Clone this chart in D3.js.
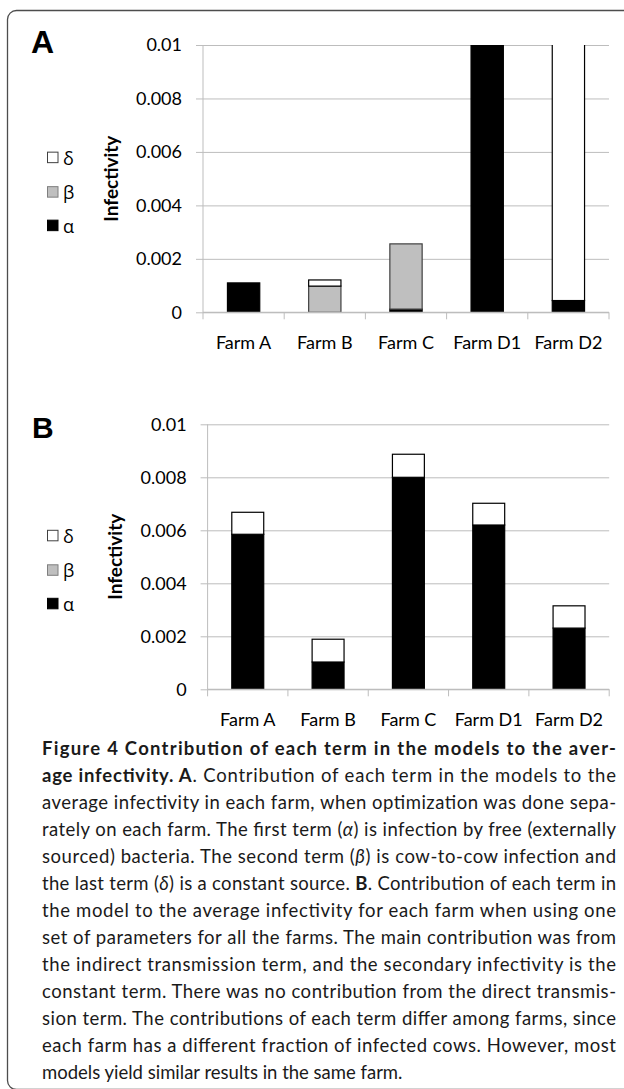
<!DOCTYPE html>
<html>
<head>
<meta charset="utf-8">
<script src="https://cdn.jsdelivr.net/npm/d3@7"></script>
<style>
  html, body { margin: 0; padding: 0; background: #fff; }
  svg { display: block; }
</style>
</head>
<body>
<svg id="fig" width="624" height="1089"></svg>
<script>
// Farms on the category axis
const farms = ["Farm A", "Farm B", "Farm C", "Farm D1", "Farm D2"];

// Panel A: separate optimisation per farm (D1 and D2 run past the 0.01 axis limit)
const alphaA = [0.0011, 0, 0.00012, 0.0106, 0.00044];
const betaA  = [0, 0.00098, 0.00244, 0, 0];
const deltaA = [0, 0.00023, 0, 0, 0.0106];

// Panel B: one parameter set for all farms
const alphaB = [0.00585, 0.00103, 0.0080, 0.0062, 0.00231];
const betaB  = [0, 0, 0, 0, 0];
const deltaB = [0.00083, 0.00086, 0.00087, 0.00082, 0.00084];

// Value axis ticks
const yTicks = [0, 0.002, 0.004, 0.006, 0.008, 0.01];

// Term legend (top to bottom) and stacking order (bottom to top)
const legendTerms = ["δ", "β", "α"];
const termFill   = { "α": "#000000", "β": "#bfbfbf", "δ": "#ffffff" };
const termStroke = { "α": "#000000", "β": "#7f7f7f", "δ": "#404040" };

const svg = d3.select("#fig");
const numFont = "Lato, 'Open Sans', 'Noto Sans', sans-serif";

// outer rounded frame
svg.append("rect")
  .attr("x", 7.5).attr("y", 10.5)
  .attr("width", 680).attr("height", 1079)
  .attr("rx", 9).attr("ry", 9)
  .attr("fill", "none").attr("stroke", "#4d4d4d").attr("stroke-width", 1.3);

function drawPanel(cfg) {
  const { id, letter, letterX, letterY, letterSize, x0, x1, yZero, yTop, alpha, beta, delta } = cfg;

  const x = d3.scaleBand().domain(farms).range([x0, x1])
    .paddingInner(0.59).paddingOuter(0.295);
  const y = d3.scaleLinear().domain([0, 0.01]).range([yZero, yTop]);

  const g = svg.append("g");

  // horizontal gridlines (start a little left of the axis, like outside tick marks)
  const grid = g.append("g")
    .attr("transform", `translate(${x0 - 7},0)`)
    .call(d3.axisRight(y).tickValues(yTicks).tickSize(x1 - x0 + 7).tickFormat(""));
  grid.select(".domain").remove();
  grid.selectAll(".tick line").attr("stroke", "#bdbdbd").attr("stroke-width", 1);

  // vertical axis line
  g.append("line")
    .attr("x1", x0).attr("x2", x0).attr("y1", yTop).attr("y2", yZero)
    .attr("stroke", "#bdbdbd").attr("stroke-width", 1);

  // tick labels
  const yLab = g.append("g")
    .attr("transform", `translate(${x0},0)`)
    .call(d3.axisLeft(y).tickValues(yTicks).tickSize(0).tickPadding(21)
      .tickFormat(d => d === 0 ? "0" : String(+d.toFixed(3))));
  yLab.select(".domain").remove();
  yLab.selectAll("text")
    .attr("font-family", numFont).attr("font-size", 18).attr("fill", "#000");

  // axis title
  g.append("text")
    .attr("transform", `translate(${x0 - 93},${(yZero + yTop) / 2}) rotate(-90)`)
    .attr("text-anchor", "middle").attr("dominant-baseline", "central")
    .attr("font-family", numFont).attr("font-weight", 700).attr("font-size", 19)
    .text("Infectivity");

  // stacked bars, clipped at the top of the value axis
  const clipId = "clip" + id;
  svg.append("clipPath").attr("id", clipId)
    .append("rect").attr("x", x0 - 1).attr("y", yTop).attr("width", x1 - x0 + 2).attr("height", yZero - yTop + 1);

  const rows = farms.map((f, i) => ({ farm: f, "α": alpha[i], "β": beta[i], "δ": delta[i] }));
  const series = d3.stack().keys(["α", "β", "δ"])(rows);

  const bars = g.append("g").attr("clip-path", `url(#${clipId})`);
  series.forEach(s => {
    bars.append("g").selectAll("rect")
      .data(s.filter(d => d[1] - d[0] > 0))
      .join("rect")
      .attr("x", d => x(d.data.farm) + 0.5)
      .attr("width", x.bandwidth() - 1)
      .attr("y", d => y(d[1]))
      .attr("height", d => y(d[0]) - y(d[1]))
      .attr("fill", termFill[s.key])
      .attr("stroke", s.key === "β" ? "#404040" : "#000")
      .attr("stroke-width", 1.2);
  });

  // category axis line with boundary ticks
  g.append("line")
    .attr("x1", x0).attr("x2", x1).attr("y1", yZero).attr("y2", yZero)
    .attr("stroke", "#bdbdbd").attr("stroke-width", 1.2);
  const bounds = [x0].concat(farms.map(f => x(f) + x.bandwidth() / 2 + x.step() / 2));
  g.append("g").selectAll("line").data(bounds).join("line")
    .attr("x1", d => d).attr("x2", d => d)
    .attr("y1", yZero).attr("y2", yZero + 7)
    .attr("stroke", "#bdbdbd").attr("stroke-width", 1);

  const xLab = g.append("g")
    .attr("transform", `translate(0,${yZero})`)
    .call(d3.axisBottom(x).tickSize(0));
  xLab.select(".domain").remove();
  xLab.selectAll("text")
    .attr("y", 37).attr("dy", 0)
    .attr("font-family", numFont).attr("font-size", 18).attr("fill", "#000");

  // legend
  const mid = (yZero + yTop) / 2;
  const offs = [-21, 13.5, 47];
  const leg = g.append("g");
  legendTerms.forEach((t, i) => {
    const cy = mid + offs[i];
    leg.append("rect")
      .attr("x", 47.5).attr("y", cy - 5.5).attr("width", 10.5).attr("height", 10.5)
      .attr("fill", termFill[t]).attr("stroke", termStroke[t]).attr("stroke-width", 1);
    leg.append("text")
      .attr("x", 63).attr("y", cy).attr("dominant-baseline", "central")
      .attr("font-family", "'Open Sans', 'Noto Sans', sans-serif").attr("font-size", 18)
      .text(t);
  });

  // panel letter
  g.append("text")
    .attr("x", letterX).attr("y", letterY)
    .attr("font-family", "'Liberation Sans', Arial, sans-serif")
    .attr("font-weight", 700).attr("font-size", letterSize)
    .text(letter);
}

drawPanel({ id: "A", letter: "A", letterX: 31, letterY: 53, letterSize: 32,
  x0: 203, x1: 609, yZero: 312.3, yTop: 45, alpha: alphaA, beta: betaA, delta: deltaA });
drawPanel({ id: "B", letter: "B", letterX: 32, letterY: 438, letterSize: 30,
  x0: 207.6, x1: 609.2, yZero: 689.3, yTop: 424.3, alpha: alphaB, beta: betaB, delta: deltaB });

// Caption, one entry per printed line; segments are [text, style]
const captionLines = [
  [["Figure 4  Contribution of each term in the models to the aver-", "b"]],
  [["age infectivity. A", "b"], [". Contribution of each term in the models to the", "r"]],
  [["average infectivity in each farm, when optimization was done sepa-", "r"]],
  [["rately on each farm. The first term (", "r"], ["α", "i"], [") is infection by free (externally", "r"]],
  [["sourced) bacteria. The second term (", "r"], ["β", "i"], [") is cow-to-cow infection and", "r"]],
  [["the last term (", "r"], ["δ", "i"], [") is a constant source. ", "r"], ["B", "b"], [". Contribution of each term in", "r"]],
  [["the model to the average infectivity for each farm when using one", "r"]],
  [["set of parameters for all the farms. The main contribution was from", "r"]],
  [["the indirect transmission term, and the secondary infectivity is the", "r"]],
  [["constant term. There was no contribution from the direct transmis-", "r"]],
  [["sion term. The contributions of each term differ among farms, since", "r"]],
  [["each farm has a different fraction of infected cows. However, most", "r"]],
  [["models yield similar results in the same farm.", "r"]]
];

const cap = svg.append("g")
  .attr("font-family", "Lato, 'Open Sans', 'Noto Sans', sans-serif")
  .attr("font-size", 18.5).attr("fill", "#1a1a1a");
captionLines.forEach((segs, i) => {
  const t = cap.append("text")
    .attr("x", 42).attr("y", 755 + i * 27);
  if (i < captionLines.length - 1) {
    t.attr("textLength", 574).attr("lengthAdjust", "spacing");
  }
  segs.forEach(([txt, st]) => {
    t.append("tspan")
      .attr("font-weight", st === "b" ? 700 : 400)
      .attr("font-style", st === "i" ? "italic" : "normal")
      .text(txt);
  });
});
</script>
</body>
</html>
